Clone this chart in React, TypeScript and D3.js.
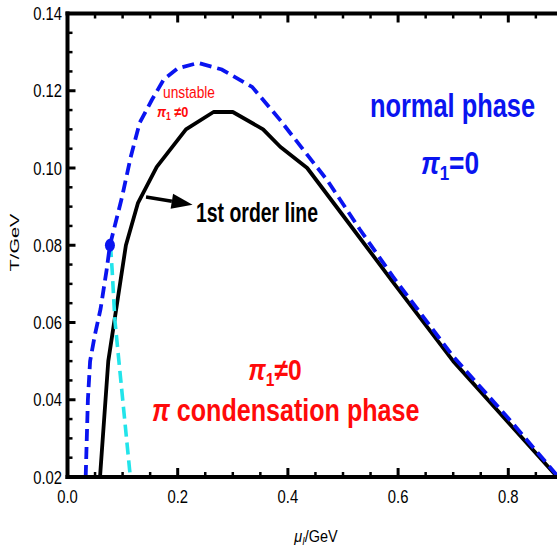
import React from "react";
import * as d3 from "d3";

const W = 557;
const H = 550;

// 1st order line (black solid)
const blackMu = [0.059, 0.074, 0.106, 0.128, 0.162, 0.215, 0.265, 0.3, 0.355, 0.386, 0.435, 0.5, 0.59, 0.7, 0.8, 0.889];
const blackT = [0.02, 0.05, 0.08, 0.091, 0.1003, 0.11, 0.1145, 0.1145, 0.11, 0.1055, 0.1, 0.0877, 0.0706, 0.05, 0.0341, 0.02];

// unstable boundary (blue dashed)
const blueMu = [0.033, 0.037, 0.041, 0.05, 0.06, 0.071, 0.077, 0.099, 0.115, 0.131, 0.153, 0.175, 0.2, 0.237, 0.28, 0.335, 0.386, 0.41, 0.471, 0.531, 0.591, 0.7, 0.8, 0.891];
const blueT = [0.02, 0.04, 0.05, 0.057, 0.0635, 0.0736, 0.08, 0.0925, 0.103, 0.1117, 0.1176, 0.123, 0.1258, 0.1272, 0.1255, 0.121, 0.1124, 0.108, 0.0969, 0.084, 0.0718, 0.0512, 0.0352, 0.02];

// cyan dashed
const cyanMu = [0.078, 0.081, 0.086, 0.114];
const cyanT = [0.08, 0.0736, 0.0606, 0.02];

// end point
const dotMu = [0.077];
const dotT = [0.08];

// arrow (tail, tip)
const arrowMu = [0.1425, 0.227];
const arrowT = [0.0925, 0.0905];

const xMajor = [0, 0.2, 0.4, 0.6, 0.8];
const xMajorLabels = ["0.0", "0.2", "0.4", "0.6", "0.8"];
const yMajor = [0.02, 0.04, 0.06, 0.08, 0.1, 0.12, 0.14];
const yMajorLabels = ["0.02", "0.04", "0.06", "0.08", "0.10", "0.12", "0.14"];

const FONT = "'Liberation Sans', Arial, sans-serif";

function ST(props: any) {
  const { x, y, sx = 1, sy = 1, rot = 0, anchor = "start", size, weight = "normal", fill = "#000", children } = props;
  return (
    <text
      transform={`translate(${x},${y}) rotate(${rot}) scale(${sx},${sy})`}
      textAnchor={anchor}
      fontSize={size}
      fontWeight={weight}
      fill={fill}
      fontFamily={FONT}
    >
      {children}
    </text>
  );
}

export default function App() {
  const x = d3.scaleLinear().domain([0, 0.9]).range([67.5, 67.5 + 0.9 * 551]);
  const y = d3.scaleLinear().domain([0.02, 0.14]).range([477, 13.5]);

  const line = d3
    .line<[number, number]>()
    .x((d) => x(d[0]))
    .y((d) => y(d[1]));

  const blackPts = blackMu.map((m, i) => [m, blackT[i]] as [number, number]);
  const bluePts = blueMu.map((m, i) => [m, blueT[i]] as [number, number]);
  const cyanPts = cyanMu.map((m, i) => [m, cyanT[i]] as [number, number]);

  const xMinor = d3.range(0, 0.9001, 0.05).filter((v) => !xMajor.some((m) => Math.abs(m - v) < 1e-6));
  const yMinor = d3.range(0.02, 0.14001, 0.005).filter((v) => !yMajor.some((m) => Math.abs(m - v) < 1e-6));

  const x0 = x(0);
  const yb = y(0.02);
  const yt = y(0.14);

  // arrow geometry
  const ax0 = x(arrowMu[0]);
  const ay0 = y(arrowT[0]);
  const ax1 = x(arrowMu[1]);
  const ay1 = y(arrowT[1]);
  const ang = Math.atan2(ay1 - ay0, ax1 - ax0);
  const hl = 21;
  const hw = 7.5;
  const bx = ax1 - hl * Math.cos(ang);
  const by = ay1 - hl * Math.sin(ang);
  const head = [
    [ax1, ay1],
    [bx + hw * Math.sin(ang), by - hw * Math.cos(ang)],
    [bx - hw * Math.sin(ang), by + hw * Math.cos(ang)],
  ]
    .map((p) => p.join(","))
    .join(" ");

  return (
    <svg
      width={W}
      height={H}
      viewBox={`0 0 ${W} ${H}`}
      style={{ position: "fixed", left: 0, top: 0, background: "#fff" }}
    >
      <rect x={0} y={0} width={W} height={H} fill="#fff" />

      {/* ticks */}
      <g stroke="#000">
        {xMajor.map((v) => (
          <g key={"xm" + v}>
            <line x1={x(v)} x2={x(v)} y1={yb} y2={yb - 9} strokeWidth={3} />
            <line x1={x(v)} x2={x(v)} y1={yt} y2={yt + 9} strokeWidth={3} />
          </g>
        ))}
        {xMinor.map((v) => (
          <g key={"xn" + v}>
            <line x1={x(v)} x2={x(v)} y1={yb} y2={yb - 5} strokeWidth={2.5} />
            <line x1={x(v)} x2={x(v)} y1={yt} y2={yt + 5} strokeWidth={2.5} />
          </g>
        ))}
        {yMajor.map((v) => (
          <line key={"ym" + v} x1={x0} x2={x0 + 8} y1={y(v)} y2={y(v)} strokeWidth={3} />
        ))}
        {yMinor.map((v) => (
          <line key={"yn" + v} x1={x0} x2={x0 + 5} y1={y(v)} y2={y(v)} strokeWidth={2.5} />
        ))}
      </g>

      {/* curves */}
      <path d={line(blackPts) || ""} fill="none" stroke="#000" strokeWidth={3.8} strokeLinejoin="round" />
      <path d={line(cyanPts) || ""} fill="none" stroke="#22e4ea" strokeWidth={3.6} strokeDasharray="12,6" />
      <path d={line(bluePts) || ""} fill="none" stroke="#0a14f0" strokeWidth={3.8} strokeDasharray="12,6" />
      {dotMu.map((m, i) => (
        <ellipse key={"dot" + i} cx={x(m)} cy={y(dotT[i])} rx={5} ry={6.5} fill="#0a14f0" />
      ))}

      {/* arrow */}
      <line x1={ax0} y1={ay0} x2={bx} y2={by} stroke="#000" strokeWidth={3.5} />
      <polygon points={head} fill="#000" />

      {/* frame */}
      <g stroke="#000" strokeWidth={4} fill="none">
        <line x1={x0} x2={x0} y1={yt - 2} y2={yb + 2} />
        <line x1={x0 - 2} x2={W} y1={yb} y2={yb} />
        <line x1={x0 - 2} x2={W} y1={yt} y2={yt} />
      </g>

      {/* tick labels */}
      {yMajor.map((v, i) => (
        <ST key={"yl" + v} x={62} y={y(v) + 6.5} sx={0.8} size={18.5} anchor="end">
          {yMajorLabels[i]}
        </ST>
      ))}
      {xMajor.map((v, i) => (
        <ST key={"xl" + v} x={x(v)} y={503} sx={0.8} size={18.5} anchor="middle">
          {xMajorLabels[i]}
        </ST>
      ))}

      {/* axis labels */}
      <ST x={18.5} y={242.5} rot={-90} sy={0.65} size={20} anchor="middle">
        T/GeV
      </ST>
      <ST x={316} y={542} sx={0.85} size={17} anchor="middle">
        <tspan fontStyle="italic">μ</tspan>
        <tspan fontStyle="italic" fontSize={11} dy={3}>I</tspan>
        <tspan dy={-3}>/GeV</tspan>
      </ST>

      {/* annotations */}
      <ST x={452.5} y={117} sx={0.77} size={33} weight="bold" fill="#0a14f0" anchor="middle">
        normal phase
      </ST>
      <ST x={450} y={174} sx={0.85} size={31} weight="bold" fill="#0a14f0" anchor="middle">
        <tspan fontStyle="italic">π</tspan>
        <tspan fontSize={20} dy={6}>1</tspan>
        <tspan dy={-6}>=0</tspan>
      </ST>
      <ST x={196} y={222} sx={0.72} size={27} weight="bold" fill="#000">
        1st order line
      </ST>
      <ST x={275} y={380} sx={0.82} size={30} weight="bold" fill="#ff0a0a" anchor="middle">
        <tspan fontStyle="italic">π</tspan>
        <tspan fontSize={19} dy={6}>1</tspan>
        <tspan dy={-6}>≠0</tspan>
      </ST>
      <ST x={152} y={421} sx={0.81} size={31} weight="bold" fill="#ff0a0a">
        <tspan fontStyle="italic">π</tspan>
        <tspan> condensation phase</tspan>
      </ST>
      <ST x={163} y={98} sx={0.81} size={17} fill="#ff0a0a">
        unstable
      </ST>
      <ST x={157} y={117} sx={0.85} size={15} weight="bold" fill="#ff0a0a">
        <tspan fontStyle="italic">π</tspan>
        <tspan fontSize={10} dy={3}>1</tspan>
        <tspan dy={-3}> ≠0</tspan>
      </ST>
    </svg>
  );
}
